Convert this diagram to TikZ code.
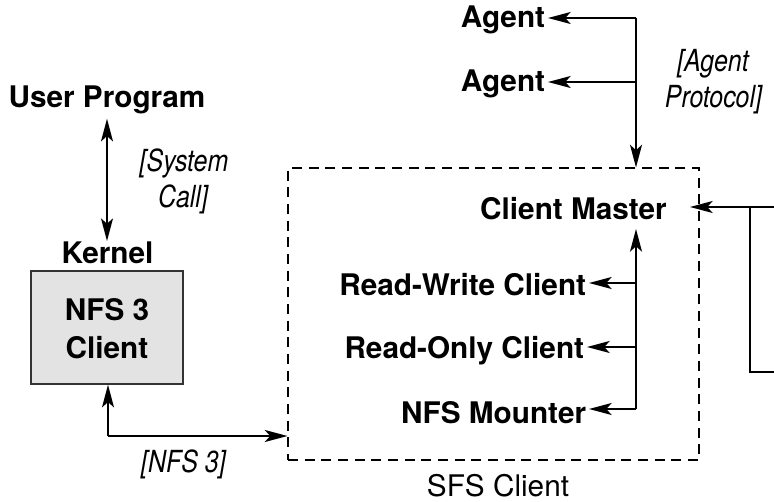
\documentclass[tikz,border=0pt]{standalone}
\usepackage{fontspec}
\setmainfont{TeX Gyre Heros}
\newfontfamily\narrowfont[FakeStretch=0.82]{TeX Gyre Heros}
\usetikzlibrary{arrows.meta,fit}
\tikzset{
  tip/.tip={Stealth[length=17pt,width=9pt,inset=4pt]},
}
\begin{document}
\begin{tikzpicture}[x=0.75pt,y=-0.75pt,
  lbl/.style={font=\fontsize{22.3}{26}\selectfont\bfseries, inner xsep=2pt, inner ysep=0pt},
  plain/.style={font=\fontsize{22.3}{26}\selectfont, inner sep=0pt},
  note/.style={font=\narrowfont\itshape\fontsize{22.8}{26}\selectfont, inner sep=0pt},
  ln/.style={line width=1.2pt},
  arr/.style={-tip, line width=1.2pt},
  darr/.style={tip-tip, line width=1.2pt},
]
\useasboundingbox (0,0) rectangle (774,502);

% boxes
\node[draw, dash pattern=on 7.5pt off 5pt, line width=0.8pt, fit={(288,168)(699,460)}, inner sep=0pt] (sfs) {};
\node[draw=black!80, fill=black!11, line width=1.1pt, fit={(31,271)(183,384)}, inner sep=0pt] (nfsbox) {};

% left side texts
\node[lbl, anchor=base] (up) at (107,108) {User Program};
\node[lbl, anchor=base] (kern) at (107.5,263) {Kernel};
\node[lbl, anchor=base] (nfs3) at (107,320) {NFS 3};
\node[lbl, anchor=base] (cl) at (107,358) {Client};
\node[note, anchor=base] (sys1) at (184,172) {[System};
\node[note, anchor=base] (sys2) at (183,208) {Call]};
\node[note, anchor=base] (nfsl) at (183.5,472) {[NFS 3]};

% agents
\node[lbl, anchor=base east] (a1) at (548,28) {Agent};
\node[lbl, anchor=base east] (a2) at (548,92) {Agent};
\node[note, anchor=base] (ap1) at (713,72) {[Agent};
\node[note, anchor=base] (ap2) at (713.5,108) {Protocol]};

% inside SFS client
\node[lbl, anchor=base] (cm) at (573.5,220) {Client Master};
\node[lbl, anchor=base east] (rw) at (589,295) {Read-Write Client};
\node[lbl, anchor=base east] (ro) at (587,358) {Read-Only Client};
\node[lbl, anchor=base east] (nm) at (589,423) {NFS Mounter};
\node[plain, anchor=base] (sfsl) at (498,496) {SFS Client};

% coordinates
\coordinate (j1) at (636,18);
\coordinate (j2) at (636,82);
\coordinate (k1) at (636,283);
\coordinate (k2) at (636,347);
\coordinate (k3) at (636,409);
\coordinate (cmtip) at (636,229);
\coordinate (r1) at (774,207);
\coordinate (r2) at (750,207);
\coordinate (r3) at (750,372);
\coordinate (r4) at (774,372);
\coordinate (cmin) at (690,207);
\coordinate (n0) at (108,436);

% connectors
\draw[arr] (j1) -- (j1 |- sfs.north);
\draw[arr] (j1) -- (j1 -| a1.east);
\draw[arr] (j2) -- (j2 -| a2.east);

\draw[arr] (k3) -- (cmtip);
\draw[arr] (k1) -- (k1 -| rw.east);
\draw[arr] (k2) -- (k2 -| ro.east);
\draw[arr] (k3) -- (k3 -| nm.east);

\draw[arr] (r1) -- (cmin);
\draw[ln] (r2) -- (r3) -- (r4);

\draw[darr, shorten <=3pt] (up.south) -- (up.south |- kern.north);

\draw[arr] (n0) -- (n0 -| sfs.west);
\draw[arr] (n0) -- (n0 |- nfsbox.south);
\end{tikzpicture}
\end{document}
